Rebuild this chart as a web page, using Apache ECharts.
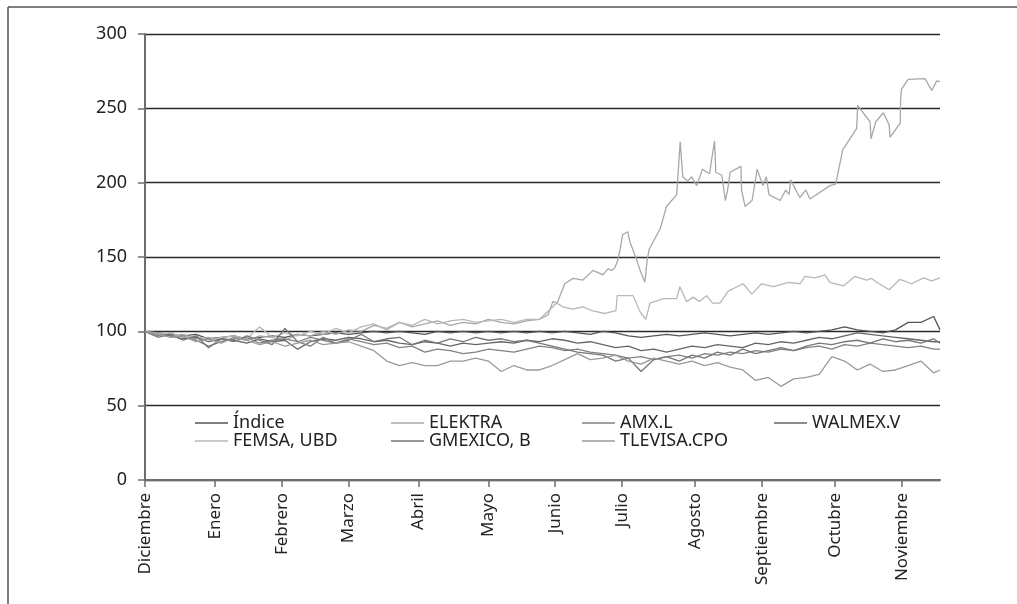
<!DOCTYPE html>
<html>
<head>
<meta charset="utf-8">
<script src="https://cdn.jsdelivr.net/npm/echarts@6/dist/echarts.min.js"></script>
<style>
html,body{margin:0;padding:0;background:#fff;}
#chart{width:1017px;height:604px;}
</style>
</head>
<body>
<div id="chart"></div>
<script>
// ---- Data ----
const monthNames = ['Diciembre','Enero','Febrero','Marzo','Abril','Mayo','Junio','Julio','Agosto','Septiembre','Octubre','Noviembre'];
const monthStart = [0,22,43,64,86,108,129,150,173,194,217,238]; // trading-day index of month start
const nSlots = 251;
const seriesNames = ['Índice','ELEKTRA','AMX.L','WALMEX.V','FEMSA, UBD','GMEXICO, B','TLEVISA.CPO'];

// shared sampling days for the five lower series
const days = [0,4,8,12,16,20,24,28,32,36,40,44,48,52,56,60,64,68,72,76,80,84,88,92,96,100,104,108,112,116,120,124,128,132,136,140,144,148,152,156,160,164,168,172,176,180,184,188,192,196,200,204,208,212,216,220,224,228,232,236,240,244,248,250];

const indice = [100,99,98,97,98,95,96,97,95,96, 97,96,98,97,98,99,98,99,100,99, 100,99,98,100,99,100,99,100,99,100, 99,100,99,100,99,98,100,99,97,96, 97,98,97,98,99,98,97,98,99,98, 99,100,99,100,101,103,101,100,99,101, 106,106,110,101];
const walmex = [100,98,97,95,96,93,95,94,92,95, 93,94,88,93,95,94,96,95,93,94, 92,91,93,92,90,92,91,92,93,92, 94,93,95,94,92,93,91,89,90,87, 88,86,88,90,89,91,90,89,92,91, 93,92,94,96,95,97,99,98,97,96, 95,94,93,93];
const amx = [100,97,99,96,94,90,93,95,96,92, 94,95,93,96,94,92,95,93,91,92, 89,90,86,88,87,85,86,88,87,86, 88,90,89,87,88,86,85,84,82,83, 81,83,84,82,85,84,86,85,87,86, 88,87,89,90,88,91,90,92,91,90, 89,90,88,88];
const gmexico = [100,96,98,94,97,89,95,93,97,94, 91,102,93,90,96,92,94,98,93,95, 96,91,94,92,95,93,96,94,95,93, 94,92,90,88,86,85,84,80,82,73, 81,83,80,84,82,86,84,88,85,87, 89,87,90,92,91,93,94,92,95,93, 94,92,95,92];
const tlevisa = [100,98,96,97,93,95,92,96,94,91, 93,90,92,94,91,92,93,90,87,80, 77,79,77,77,80,80,82,80,73,77, 74,74,77,81,85,81,82,84,80,78, 82,80,78,80,77,79,76,74,67,69, 63,68,69,71,83,80,74,78,73,74, 77,80,72,74];

const elektraDays = [0,4,8,12,16,20,24,28,32,36,40,44,48,52,56,60,64,68,72,76,80,84,88,92,96,100,104,108,112,116,120,124,
  126.7,128.3,129.6,132,134.6,137.7,140.9,144,145.6,146.9,147.8,148.7,149.4,150.2,151.8,152.5,153.4,154.6,155.7,157.2,
  157.8,158.5,162,164,167.2,168.3,169.1,170.7,171.9,173.5,175.3,177.5,179.1,179.5,181.4,182.5,183.2,184,187.4,187.6,
  188.7,190.9,192.5,194.3,195.4,196.2,199.7,201.5,202.6,203,205.9,207.8,209.1,215.4,217.2,219.4,223.8,224.1,226.9,228,
  228.3,229.8,232.2,234,234.3,237.5,237.6,237.9,240,245.3,247.4,249,250];
const elektra = [100,99,97,98,95,96,93,96,94,97,96,94,98,97,100,98,101,100,104,102,106,103,105,107,104,106,105,108,106,105,107,108,
  111,120,119,132,135.6,134.5,141,138,142,141,143,148,155,165,167,160,155,148,141,133,
  146,155,169,184,192,227.5,204,201,204,198,209,206,228,207,205,188,195,207,211,195,
  184,188,209,198,204,192,188,195,192,202,190,195,189,198,199,222,236.5,252,244,241,
  229.5,241,247,239,230.5,240,256,263,269.5,270,262,268.5,268];

const femsaDays = [0,4,8,12,16,20,24,28,32,36,40,44,48,52,56,60,64,68,72,76,80,84,88,92,96,100,104,108,112,116,120,124,
  129.5,131.4,134.6,137.7,140.5,144.7,148.1,148.5,153.5,155.7,157.5,158.8,163,167.2,168.2,170.3,172.4,174.3,176.6,178.5,
  180.8,183.4,188.1,190.8,193.9,197.6,202.3,206,207.5,210.7,213.8,215.4,219.6,223.3,226.9,228.5,230.1,234,237.4,241.1,
  244.8,247.4,250];
const femsa = [100,98,99,96,97,94,96,97,95,103,96,99,97,100,98,102,99,103,105,101,106,104,108,105,107,108,106,107,108,106,108,108,
  119,116.5,115,116.5,114,112,114,124,124,113,108,119,122,122,130,120,123,120,124,119,
  119,127,132,125,132,130,133,132,137,136,138,133,130.5,137,134.5,135.6,133,128,135,132,
  136,134,136];

const colors = {'Índice':'#555555','ELEKTRA':'#a8a8a8','AMX.L':'#828282','WALMEX.V':'#666666','FEMSA, UBD':'#b8b8b8','GMEXICO, B':'#777777','TLEVISA.CPO':'#9a9a9a'};

// ---- Build ----
const categories = new Array(nSlots).fill('');
monthStart.forEach((d,i)=>{categories[d]=monthNames[i];});
const pair = (xs, ys) => xs.map((x,i)=>[x, ys[i]]);
const seriesData = {
  'Índice': pair(days, indice),
  'ELEKTRA': pair(elektraDays, elektra),
  'AMX.L': pair(days, amx),
  'WALMEX.V': pair(days, walmex),
  'FEMSA, UBD': pair(femsaDays, femsa),
  'GMEXICO, B': pair(days, gmexico),
  'TLEVISA.CPO': pair(days, tlevisa)
};
const FONT = 'Noto Sans';
const legendCols = [['Índice','FEMSA, UBD'],['ELEKTRA','GMEXICO, B'],['AMX.L','TLEVISA.CPO'],['WALMEX.V']];
const legendLeft = [190,386,577,769];

const chart = echarts.init(document.getElementById('chart'), null, {renderer:'canvas'});
chart.setOption({
  animation:false,
  backgroundColor:'#fff',
  textStyle:{fontFamily:FONT},
  grid:{left:145,right:77,top:34,bottom:124,containLabel:false},
  legend: legendCols.map((names,i)=>({
    orient:'vertical', left:legendLeft[i], top:409,
    data:names, icon:'rect', itemWidth:33, itemHeight:1.5, itemGap:0,
    textStyle:{fontFamily:FONT,fontSize:18,color:'#222',lineHeight:15,padding:0},
    selectedMode:false
  })),
  xAxis:[
    {type:'value',min:0,max:nSlots-1,show:false},
    {type:'category',data:categories,boundaryGap:false,position:'bottom',
     axisLine:{lineStyle:{color:'#6e6e6e',width:2}},
     axisTick:{show:true,length:7,interval:(i,v)=>v!=='',lineStyle:{color:'#6e6e6e',width:1.5}},
     axisLabel:{interval:(i,v)=>v!=='',rotate:90,margin:13,fontSize:17,color:'#222',fontFamily:FONT},
     splitLine:{show:false}}
  ],
  yAxis:{type:'value',min:0,max:300,interval:50,
    axisLine:{show:true,lineStyle:{color:'#6e6e6e',width:2}},
    axisTick:{show:true,length:7,lineStyle:{color:'#6e6e6e',width:1.5}},
    axisLabel:{margin:18,fontSize:18,color:'#222',fontFamily:FONT},
    splitLine:{show:true,lineStyle:{color:'#2a2a2a',width:1.4}}},
  graphic:[
    {type:'line',shape:{x1:8,y1:7,x2:1017,y2:7},style:{stroke:'#555',lineWidth:1.5},silent:true},
    {type:'line',shape:{x1:8,y1:7,x2:8,y2:604},style:{stroke:'#555',lineWidth:1.5},silent:true}
  ],
  series: seriesNames.map(n=>({
    name:n,type:'line',xAxisIndex:0,data:seriesData[n],symbol:'none',
    lineStyle:{color:colors[n],width:1.3},itemStyle:{color:colors[n]},
    emphasis:{disabled:true}
  }))
});
</script>
</body>
</html>
